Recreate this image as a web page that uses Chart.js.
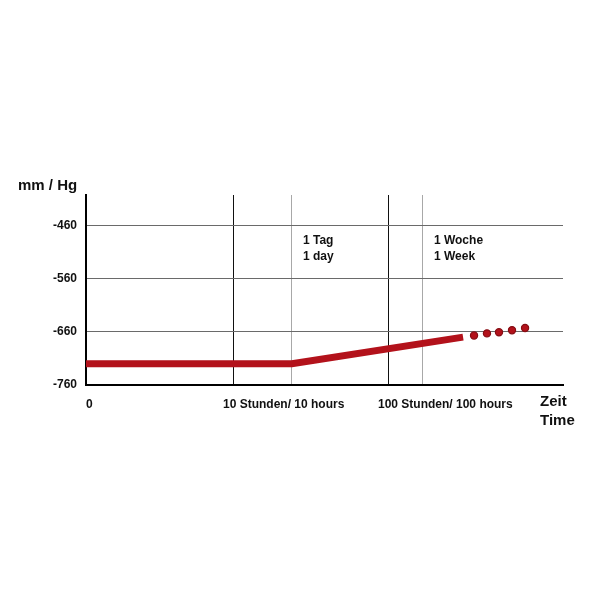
<!DOCTYPE html>
<html><head><meta charset="utf-8">
<script src="https://cdn.jsdelivr.net/npm/chart.js@4.4.0/dist/chart.umd.min.js"></script>
<style>html,body{margin:0;padding:0;background:#fff}canvas{display:block}</style>
</head><body>
<canvas id="c" width="600" height="600"></canvas>
<script>
// Time axis (hours, logarithmic)
const X_MIN = 1.126;
const X_MAX = 1346;
const xTickValues = [X_MIN, 10, 24, 100, 168];
const xTickLabels = ['0', '10 Stunden/ 10 hours', '', '100 Stunden/ 100 hours', ''];
// Pressure axis (mm / Hg)
const Y_MIN = -760;
const Y_MAX = -403;
const yTickValues = [-760, -660, -560, -460];
// Solid curve
const solidX = [X_MIN, 24, 305];
const solidY = [-720, -720, -670];
// Dotted continuation
const dotX = [359, 435, 520, 631, 766];
const dotY = [-667, -663, -661, -657, -653];
// Annotations
const noteAt = [24, 168];
const noteText = [['1 Tag', '1 day'], ['1 Woche', '1 Week']];

const FONT = '"Liberation Sans", Arial, Helvetica, sans-serif';
const RED = '#b3121b';

const textPlugin = {
  id: 'texts',
  beforeDraw(chart) {
    // first x label ("0") sits at the axis start, not offset like the others
    const items = chart.scales.x.getLabelItems(chart.chartArea);
    if (items.length && !items[0]._shifted) {
      items[0].options.translation[0] += 10;
      items[0]._shifted = true;
    }
  },
  afterDraw(chart) {
    const ctx = chart.ctx, xs = chart.scales.x, ca = chart.chartArea;
    ctx.save();
    ctx.fillStyle = '#111';
    ctx.textAlign = 'left';
    ctx.textBaseline = 'middle';
    ctx.font = 'bold 15px ' + FONT;
    ctx.fillText('mm / Hg', 18, 186);
    ctx.fillText('Zeit', 540, 402);
    ctx.fillText('Time', 540, 421);
    ctx.font = 'bold 12px ' + FONT;
    noteAt.forEach((v, i) => {
      const px = xs.getPixelForValue(v) + 11;
      noteText[i].forEach((t, j) => ctx.fillText(t, px, ca.top + 46 + j * 16));
    });
    ctx.restore();
  }
};

new Chart(document.getElementById('c'), {
  type: 'line',
  data: {
    datasets: [
      {
        data: solidX.map((x, i) => ({x, y: solidY[i]})),
        borderColor: RED, borderWidth: 7, pointRadius: 0,
        borderCapStyle: 'butt', tension: 0, fill: false
      },
      {
        data: dotX.map((x, i) => ({x, y: dotY[i]})),
        showLine: false, pointRadius: 3.6,
        pointBackgroundColor: RED, pointBorderColor: '#860d14', pointBorderWidth: 1.2
      }
    ]
  },
  options: {
    responsive: false,
    animation: false,
    devicePixelRatio: 1,
    layout: { padding: { left: 0, top: 195, right: 37, bottom: 185 } },
    plugins: { legend: { display: false }, tooltip: { enabled: false } },
    scales: {
      x: {
        type: 'logarithmic', min: X_MIN, max: X_MAX,
        afterBuildTicks: s => { s.ticks = xTickValues.map(v => ({value: v})); },
        afterFit: s => { s.height = 30; },
        ticks: {
          autoSkip: false, maxRotation: 0, minRotation: 0,
          align: 'start', labelOffset: -10, padding: 12,
          color: '#111', font: { family: FONT, size: 12, weight: 'bold' },
          callback: (v, i) => xTickLabels[i]
        },
        grid: {
          drawTicks: false, lineWidth: 1,
          color: c => {
            const v = c.tick ? c.tick.value : null;
            if (v === 10 || v === 100) return '#111';
            if (v === 24 || v === 168) return '#a8a8a8';
            return 'rgba(0,0,0,0)';
          }
        },
        border: { color: '#000', width: 2 }
      },
      y: {
        type: 'linear', min: Y_MIN, max: Y_MAX,
        afterBuildTicks: s => { s.ticks = yTickValues.map(v => ({value: v})); },
        afterFit: s => { s.width = 86; },
        ticks: {
          padding: 9, color: '#111',
          font: { family: FONT, size: 12, weight: 'bold' }
        },
        grid: {
          drawTicks: false, lineWidth: 1,
          color: c => (c.tick && c.tick.value === Y_MIN) ? 'rgba(0,0,0,0)' : '#6a6a6a'
        },
        border: { color: '#000', width: 2 }
      }
    }
  },
  plugins: [textPlugin]
});
</script>
</body></html>
